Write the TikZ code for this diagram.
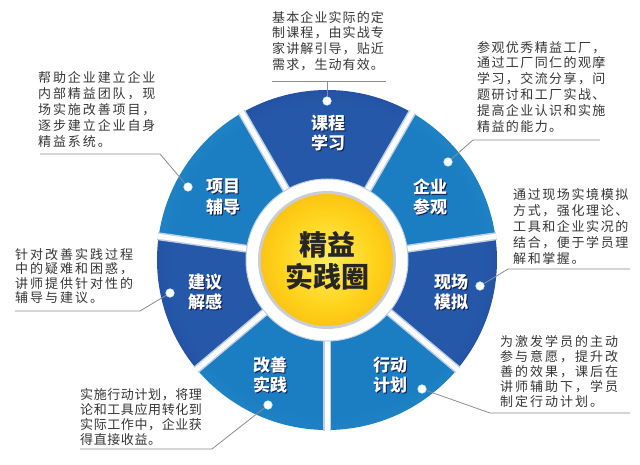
\documentclass[tikz,border=0pt]{standalone}
\usepackage{fontspec}
\newfontfamily\cjk{Noto Sans CJK SC}
\usetikzlibrary{calc}
\definecolor{dkin}{HTML}{2558A8}
\definecolor{dkmid}{HTML}{1C3690}
\definecolor{dkout}{HTML}{141A70}
\definecolor{ltin}{HTML}{1B7EC2}
\definecolor{ltout}{HTML}{3CB8E4}
\definecolor{orA}{HTML}{FFEE60}
\definecolor{orB}{HTML}{FFD21A}
\definecolor{orC}{HTML}{F29400}
\definecolor{txt}{HTML}{363636}
\definecolor{callline}{HTML}{8C8C8C}
\definecolor{sepc}{HTML}{BFD0E4}
\definecolor{labsh}{HTML}{0E1A4A}
\definecolor{ringsh}{HTML}{C9CED6}
\pgfdeclareradialshading{darkseg}{\pgfpoint{0bp}{0bp}}{color(0bp)=(dkin); color(23bp)=(dkin); color(36bp)=(dkmid); color(50bp)=(dkout)}
\pgfdeclareradialshading{lightseg}{\pgfpoint{0bp}{0bp}}{color(0bp)=(ltin); color(23bp)=(ltin); color(50bp)=(ltout)}
\pgfdeclareradialshading{orangeball}{\pgfpoint{0bp}{0bp}}{color(0bp)=(orA); color(18bp)=(orB); color(50bp)=(orC)}
\tikzset{
  callt/.style={anchor=north west, inner sep=0pt, align=left, text=txt},
  seglab/.style={inner sep=0pt, align=center, text=white, font=\cjk\bfseries\fontsize{17}{20.5}\selectfont},
  seglabsh/.style={seglab, text=labsh},
  dot/.style={circle, fill=white, draw=white!80!cyan, line width=0.6pt, inner sep=0pt, minimum size=8.5pt},
  call/.style={draw=callline, line width=0.8pt},
}
\newcommand\seglabel[3]{%
  \node[seglabsh, xshift=1pt, yshift=-1pt] (#1s) at (#2) {#3};
  \node[seglab] (#1) at (#2) {#3};}
\newcommand\wheelsector[3]{%
  \begin{scope}
    \clip (C) -- ($(C)+(#1:170pt)$) arc[start angle=#1, end angle=#2, radius=170pt] -- cycle;
    \shade[shading=#3] (C) circle[radius=170pt];
  \end{scope}}
\begin{document}
\begin{tikzpicture}[x=1pt,y=1pt]
\useasboundingbox (0,0) rectangle (640,464);
\fill[white] (0,0) rectangle (640,464);
\coordinate (C) at (327,204);
% segments
\wheelsector{60}{120}{darkseg}
\wheelsector{120}{172}{lightseg}
\wheelsector{172}{220}{darkseg}
\wheelsector{220}{270}{lightseg}
\wheelsector{270}{320}{lightseg}
\wheelsector{320}{368}{darkseg}
\wheelsector{8}{60}{lightseg}
% separators
\foreach \a in {8,60,120,172,220,270,320}{
  \draw[sepc, line width=8pt] ($(C)+(\a:74pt)$) -- ($(C)+(\a:171pt)$);
  \draw[white, line width=5pt] ($(C)+(\a:74pt)$) -- ($(C)+(\a:171pt)$);
}
% inner ring
\fill[white] (C) circle[radius=81pt];
\draw[sepc, line width=1pt] (C) circle[radius=81pt];
\fill[ringsh] (C) circle[radius=69pt];
\shade[shading=orangeball] (C) circle[radius=66pt];
\node[inner sep=0pt, align=center, text=black!85, font=\cjk\bfseries\fontsize{28}{32}\selectfont] (ctr) at (327,203) {精益\\实践圈};
% segment labels
\seglabel{lA}{328,331}{课程\\学习}
\seglabel{lB}{430,267}{企业\\参观}
\seglabel{lD}{451,172}{现场\\模拟}
\seglabel{lF}{390,89}{行动\\计划}
\seglabel{lG}{270,89}{改善\\实践}
\seglabel{lE}{205,172}{建议\\解感}
\seglabel{lC}{223,267}{项目\\辅导}
% dots
\node[dot] (dA) at (327,363) {};
\node[dot] (dB) at (448,302) {};
\node[dot] (dD) at (480,178) {};
\node[dot] (dF) at (422,75) {};
\node[dot] (dG) at (268,59) {};
\node[dot] (dE) at (170,171) {};
\node[dot] (dC) at (188,277) {};
% callout corner points
\coordinate (aL) at (272,383); \coordinate (aM) at (327,383); \coordinate (aR) at (386,383);
\coordinate (bK) at (473,324); \coordinate (bR) at (600,324);
\coordinate (cL) at (40,310); \coordinate (cK) at (160,310);
\coordinate (dK) at (508,195); \coordinate (dR) at (630,195);
\coordinate (eL) at (15,153); \coordinate (eK) at (140,153);
\coordinate (fK) at (490,51); \coordinate (fR) at (630,51);
\coordinate (gL) at (80,15); \coordinate (gK) at (212,15);
% callout lines
\draw[call] (aL) -- (aR);
\draw[call] (aM) -- (dA);
\draw[call] (dB) -- (bK) -- (bR);
\draw[call] (cL) -- (cK) -- (dC);
\draw[call] (dD) -- (dK) -- (dR);
\draw[call] (eL) -- (eK) -- (dE);
\draw[call] (dF) -- (fK) -- (fR);
\draw[call] (gL) -- (gK) -- (dG);
% callout texts
\node[callt, font={\cjk\fontsize{13}{15.7}\selectfont\addfontfeatures{LetterSpace=8.5}}] (tA) at (272,453)
  {基本企业实际的定\\制课程，由实战专\\家讲解引导，贴近\\需求，生动有效。};
\node[callt, font={\cjk\fontsize{13}{15.8}\selectfont\addfontfeatures{LetterSpace=10.8}}] (tB) at (477,423)
  {参观优秀精益工厂，\\通过工厂同仁的观摩\\学习，交流分享，问\\题研讨和工厂实战、\\提高企业认识和实施\\精益的能力。};
\node[callt, font={\cjk\fontsize{13}{16}\selectfont\addfontfeatures{LetterSpace=14.6}}] (tC) at (38,393)
  {帮助企业建立企业\\内部精益团队，现\\场实施改善项目，\\逐步建立企业自身\\精益系统。};
\node[callt, font={\cjk\fontsize{13}{16}\selectfont\addfontfeatures{LetterSpace=12.3}}] (tD) at (513,276)
  {通过现场实境模拟\\方式，强化理论、\\工具和企业实况的\\结合，便于学员理\\解和掌握。};
\node[callt, font={\cjk\fontsize{13}{14.5}\selectfont\addfontfeatures{LetterSpace=15.4}}] (tE) at (15,216)
  {针对改善实践过程\\中的疑难和困惑，\\讲师提供针对性的\\辅导与建议。};
\node[callt, font={\cjk\fontsize{13}{15}\selectfont\addfontfeatures{LetterSpace=15.4}}] (tF) at (500,129)
  {为激发学员的主动\\参与意愿，提升改\\善的效果，课后在\\讲师辅助下，学员\\制定行动计划。};
\node[callt, font={\cjk\fontsize{13}{15}\selectfont\addfontfeatures{LetterSpace=4.6}}] (tG) at (80,76)
  {实施行动计划，将理\\论和工具应用转化到\\实际工作中，企业获\\得直接收益。};
\end{tikzpicture}
\end{document}
